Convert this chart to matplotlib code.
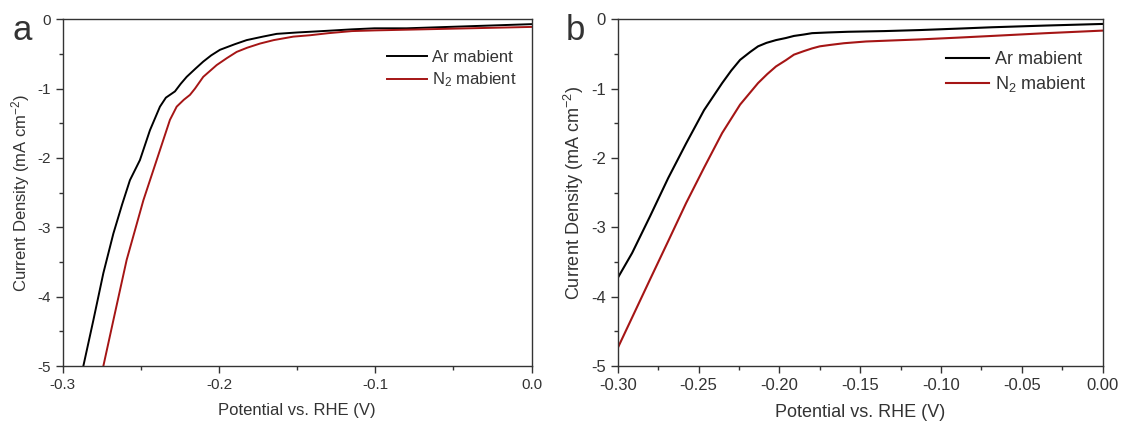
import matplotlib
matplotlib.use("Agg")
import matplotlib.pyplot as plt
from matplotlib.ticker import MultipleLocator, FormatStrFormatter

plt.rcParams['font.family'] = ['Liberation Sans', 'DejaVu Sans']
plt.rcParams['mathtext.default'] = 'regular'
plt.rcParams['axes.unicode_minus'] = False

# panel a
a_ar_x = [-0.2868, -0.2804, -0.274, -0.2676, -0.262, -0.257, -0.2506, -0.2442,
          -0.2378, -0.234, -0.2282, -0.2245, -0.2207, -0.215, -0.2101, -0.205,
          -0.1994, -0.19, -0.1823, -0.172, -0.1631, -0.15, -0.1418, -0.13,
          -0.115, -0.1006, -0.08, -0.06, -0.04, -0.02, 0.0]
a_ar_y = [-5.0, -4.34, -3.66, -3.09, -2.67, -2.32, -2.03, -1.6,
          -1.26, -1.13, -1.04, -0.93, -0.83, -0.71, -0.61, -0.52,
          -0.44, -0.36, -0.30, -0.25, -0.21, -0.19, -0.18, -0.165,
          -0.145, -0.13, -0.13, -0.115, -0.10, -0.085, -0.07]
a_n2_x = [-0.274, -0.2676, -0.2591, -0.2484, -0.2399, -0.2314, -0.2271, -0.2225,
          -0.2186, -0.2154, -0.2101, -0.2015, -0.195, -0.1887, -0.182, -0.1738,
          -0.165, -0.1525, -0.1418, -0.13, -0.115, -0.1, -0.08, -0.06,
          -0.04, -0.02, 0.0]
a_n2_y = [-5.0, -4.34, -3.47, -2.61, -2.03, -1.45, -1.26, -1.16,
          -1.09, -1.0, -0.83, -0.66, -0.56, -0.47, -0.41, -0.35,
          -0.30, -0.25, -0.23, -0.20, -0.17, -0.16, -0.15, -0.14,
          -0.13, -0.12, -0.11]

# panel b
b_ar_x = [-0.3, -0.2911, -0.28, -0.2688, -0.2577, -0.2466, -0.2354, -0.2298,
          -0.2243, -0.218, -0.2132, -0.208, -0.2021, -0.196, -0.191, -0.185,
          -0.1798, -0.17, -0.1576, -0.135, -0.113, -0.09, -0.0685, -0.035, 0.0]
b_ar_y = [-3.73, -3.37, -2.84, -2.29, -1.79, -1.31, -0.92, -0.74,
          -0.585, -0.47, -0.39, -0.34, -0.30, -0.27, -0.24, -0.22,
          -0.20, -0.19, -0.18, -0.17, -0.155, -0.135, -0.115, -0.09, -0.067]
b_n2_x = [-0.3, -0.2911, -0.28, -0.2688, -0.2577, -0.2466, -0.2354, -0.2243,
          -0.2132, -0.2075, -0.2021, -0.196, -0.191, -0.185, -0.1798, -0.175,
          -0.1687, -0.16, -0.1464, -0.13, -0.113, -0.09, -0.0685, -0.035, 0.0]
b_n2_y = [-4.74, -4.30, -3.75, -3.20, -2.65, -2.14, -1.64, -1.23,
          -0.92, -0.79, -0.68, -0.59, -0.51, -0.46, -0.42, -0.39,
          -0.37, -0.345, -0.32, -0.305, -0.29, -0.265, -0.24, -0.20, -0.163]

labels = ["Ar mabient", "N$_2$ mabient"]
red = '#a51515'
grey = '#333333'

fig = plt.figure(figsize=(11.24, 4.25), dpi=100)
ax1 = fig.add_axes([0.0558, 0.1388, 0.4172, 0.8158])
ax2 = fig.add_axes([0.5496, 0.1388, 0.4314, 0.8158])


def style(ax, fs, xmajor, xminor, xfmt):
    ax.set_xlim(-0.3, 0.0)
    ax.set_ylim(-5, 0)
    ax.xaxis.set_major_locator(MultipleLocator(xmajor))
    ax.xaxis.set_minor_locator(MultipleLocator(xminor))
    ax.xaxis.set_major_formatter(FormatStrFormatter(xfmt))
    ax.yaxis.set_major_locator(MultipleLocator(1))
    ax.yaxis.set_minor_locator(MultipleLocator(0.5))
    ax.tick_params(which='both', direction='out', top=False, right=False,
                   colors=grey, labelsize=fs - 1, width=1.0)
    ax.tick_params(which='major', length=5)
    ax.tick_params(which='minor', length=3)
    for s in ax.spines.values():
        s.set_color(grey)
        s.set_linewidth(1.0)
    ax.set_xlabel("Potential vs. RHE (V)", fontsize=fs, color=grey, labelpad=8)
    ax.set_ylabel("Current Density (mA cm$^{-2}$)", fontsize=fs, color=grey, labelpad=4)
    ax.legend(loc='upper right', frameon=False, fontsize=fs, handlelength=2.4,
              handletextpad=0.3, labelspacing=0.35, bbox_to_anchor=(1.0, 0.955),
              labelcolor=grey)


ax1.plot(a_ar_x, a_ar_y, color='black', lw=1.4, label=labels[0])
ax1.plot(a_n2_x, a_n2_y, color=red, lw=1.4, label=labels[1])
style(ax1, 12, 0.1, 0.05, '%.1f')

ax2.plot(b_ar_x, b_ar_y, color='black', lw=1.5, label=labels[0])
ax2.plot(b_n2_x, b_n2_y, color=red, lw=1.5, label=labels[1])
style(ax2, 13, 0.05, 0.025, '%.2f')

fig.text(0.011, 0.905, "a", fontsize=25, color=grey)
fig.text(0.503, 0.905, "b", fontsize=25, color=grey)

fig.savefig("out.png", dpi=100)
